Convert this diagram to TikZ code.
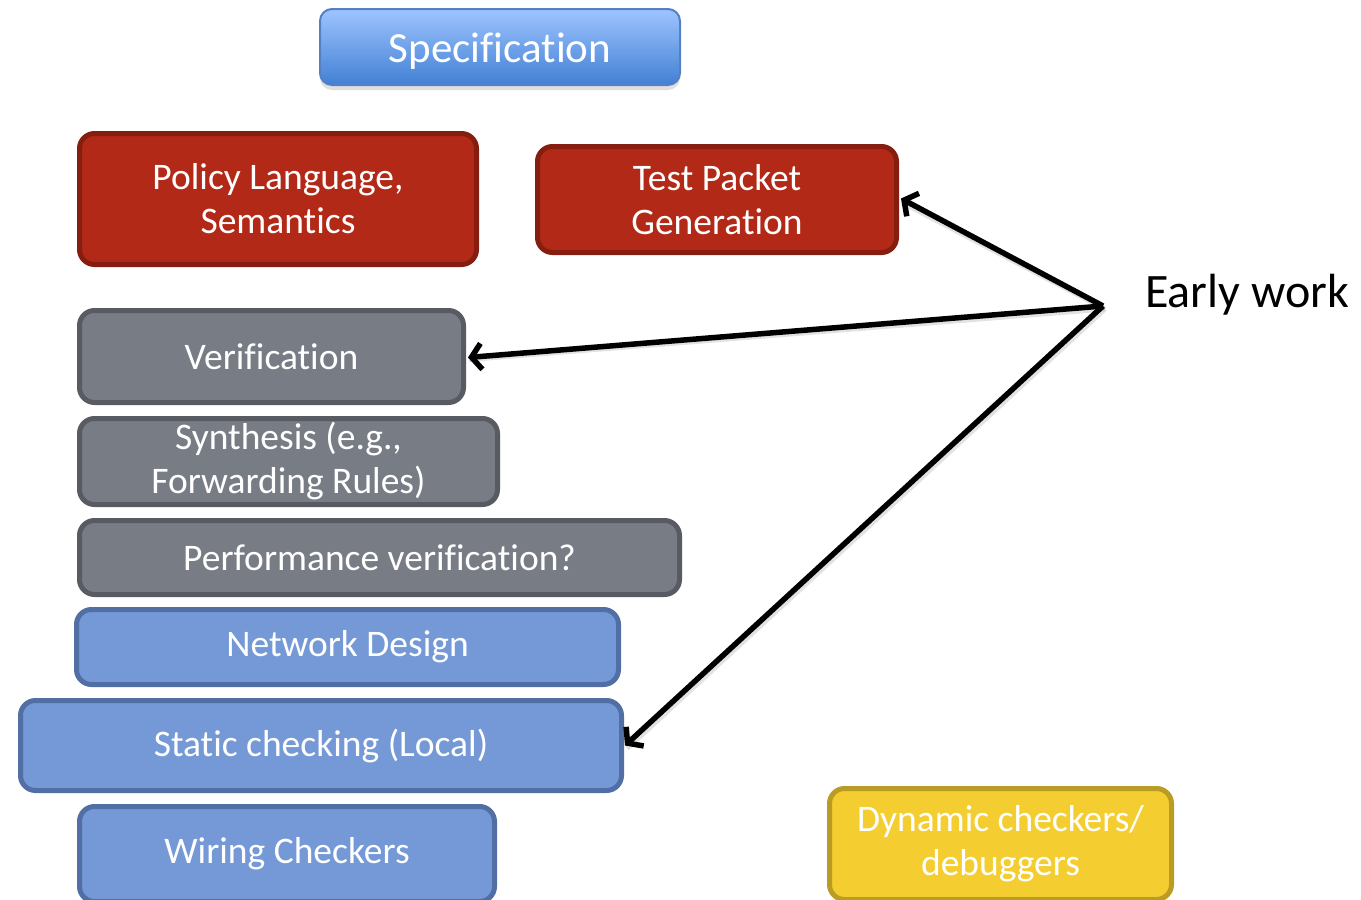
\documentclass[tikz,border=0pt]{standalone}
\usepackage{fontspec}
\setmainfont{Carlito}[Ligatures={NoCommon,NoRare,NoContextual}]
\usetikzlibrary{arrows.meta,shadows}
\definecolor{specTop}{RGB}{158,196,255}
\definecolor{specBot}{RGB}{66,128,212}
\definecolor{specLine}{RGB}{84,128,196}
\definecolor{redFill}{RGB}{178,42,23}
\definecolor{redLine}{RGB}{134,30,16}
\definecolor{greyFill}{RGB}{120,124,132}
\definecolor{greyLine}{RGB}{88,91,98}
\definecolor{blueFill}{RGB}{116,153,214}
\definecolor{blueLine}{RGB}{82,111,165}
\definecolor{yellowFill}{RGB}{244,205,48}
\definecolor{yellowLine}{RGB}{186,156,36}
\tikzset{
  card/.style={rounded corners=15pt, line width=5pt, text=white, align=center,
    inner sep=0pt, font=\fontsize{37.5}{44}\selectfont},
  redcard/.style={card, fill=redFill, draw=redLine},
  greycard/.style={card, fill=greyFill, draw=greyLine},
  bluecard/.style={card, fill=blueFill, draw=blueLine},
  yellowcard/.style={card, fill=yellowFill, draw=yellowLine},
  pointer/.style={line width=5.5pt, line join=round,
    -{Straight Barb[length=10pt,width=26pt,line width=5.5pt]}},
  pointershade/.style={line width=5pt, draw=black!25, opacity=0.45}
}
\begin{document}
\begin{tikzpicture}[x=1pt,y=-1pt]
\useasboundingbox (0,0) rectangle (1361,900);
\clip (0,0) rectangle (1361,900);

% top heading box
\node[rounded corners=12pt, line width=2pt, draw=specLine,
      top color=specTop, bottom color=specBot, text=white,
      font=\fontsize{43}{50}\selectfont, inner sep=0pt,
      text height=40pt, text depth=10pt,
      minimum width=360pt, minimum height=76pt,
      drop shadow={shadow xshift=0pt, shadow yshift=-5pt, opacity=0.25}]
  (spec) at (500,47) {Specification};

% red boxes
\node[redcard, minimum width=397pt, minimum height=131pt]
  (policy) at (278,199) {Policy Language,\\Semantics};
\node[redcard, minimum width=359pt, minimum height=106pt]
  (tpg) at (717,199.5) {Test Packet\\Generation};

% grey boxes
\node[greycard, minimum width=384pt, minimum height=92pt]
  (verif) at (271.5,356.5) {Verification};
\node[greycard, minimum width=418pt, minimum height=86pt]
  (synth) at (288.5,461.5) {\raisebox{-3pt}{\parbox{400pt}{\centering Synthesis (e.g.,\\Forwarding Rules)}}};
\node[greycard, minimum width=600pt, minimum height=74pt]
  (perf) at (379.5,557.5) {Performance verification?};

% blue boxes
\node[bluecard, minimum width=542pt, minimum height=75pt]
  (netdes) at (347.5,647) {Network Design};
\node[bluecard, minimum width=601pt, minimum height=90pt]
  (static) at (321,745.5) {Static checking (Local)};
\node[bluecard, minimum width=415pt, minimum height=95pt]
  (wiring) at (287,854) {Wiring Checkers};

% yellow box
\node[yellowcard, minimum width=342pt, minimum height=111pt]
  (dyn) at (1000.5,844) {Dynamic checkers/\\debuggers};

% label and pointers
\node[anchor=west, inner sep=0pt, font=\fontsize{48}{54}\selectfont]
  (early) at (1145,295) {Early work};
\coordinate (hub) at (1103,306);
\coordinate (hubs) at (1105,309);

\draw[pointershade] (hubs) -- ([shift={(3,3)}]tpg.east);
\draw[pointershade] (hubs) -- ([shift={(3,3)}]verif.east);
\draw[pointershade] (hubs) -- ([shift={(3,3)}]static.east);

\draw[pointer] (hub) -- ([xshift=2pt,yshift=1pt]tpg.east);
\draw[pointer] (hub) -- ([xshift=2pt,yshift=-1pt]verif.east);
\draw[pointer] (hub) -- ([xshift=1pt]static.east);
\end{tikzpicture}
\end{document}
